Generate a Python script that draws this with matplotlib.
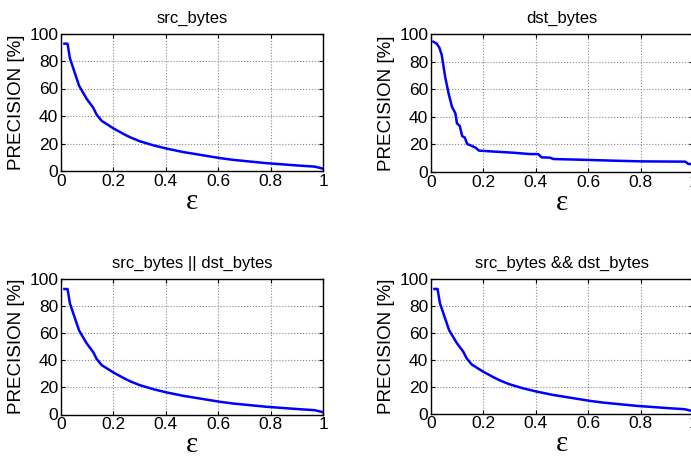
import matplotlib
matplotlib.use("Agg")
import matplotlib.pyplot as plt
import numpy as np

plt.rcParams['font.family'] = ['Liberation Sans', 'DejaVu Sans']

titles = ["src_bytes", "dst_bytes", "src_bytes || dst_bytes", "src_bytes && dst_bytes"]

eps_src = [0.013, 0.025, 0.034, 0.069, 0.098, 0.123, 0.136, 0.155, 0.2, 0.238, 0.263,
           0.3, 0.352, 0.403, 0.466, 0.53, 0.606, 0.657, 0.784, 0.911, 0.968, 1.0]
prec_src = [92.6, 92.6, 82, 62, 52.5, 46, 41, 36.5, 31, 27, 24.6,
            21.7, 18.7, 16.3, 13.8, 11.8, 9.4, 8.1, 5.7, 3.9, 3.2, 1.7]

eps_dst = [0.009, 0.022, 0.032, 0.041, 0.054, 0.067, 0.08, 0.093, 0.099, 0.11, 0.119,
           0.129, 0.138, 0.155, 0.17, 0.183, 0.248, 0.312, 0.377, 0.409, 0.422, 0.454,
           0.467, 0.57, 0.699, 0.803, 0.97, 0.983, 1.0]
prec_dst = [94.4, 93, 90, 84.8, 69, 57, 47.3, 42.5, 35.3, 33.3, 26,
            25, 20.3, 19, 17.6, 15.5, 14.7, 14, 13, 13, 10.6, 10.4,
            9.4, 8.9, 8.2, 7.7, 7.5, 5.8, 5.8]

eps_or = eps_src
prec_or = prec_src
eps_and = eps_src
prec_and = prec_src

xticks = [0, 0.2, 0.4, 0.6, 0.8, 1]
xticklabels = ["0", "0.2", "0.4", "0.6", "0.8", "1"]
yticks = [0, 20, 40, 60, 80, 100]
yticklabels = ["0", "20", "40", "60", "80", "100"]

W, H = 691, 457
fig = plt.figure(figsize=(W / 100, H / 100), dpi=100)

# axes boxes in pixels: (left, top, right, bottom)
boxes = [(61, 33.5, 323, 171), (431, 34, 693, 172),
         (61, 279, 323, 414.5), (431, 279, 693, 413.5)]
series = [(eps_src, prec_src), (eps_dst, prec_dst), (eps_or, prec_or), (eps_and, prec_and)]

for (l, t, r, b), (xs, ys), title in zip(boxes, series, titles):
    ax = fig.add_axes([l / W, 1 - b / H, (r - l) / W, (b - t) / H])
    ax.plot(xs, ys, color='#0000ff', lw=1.8)
    ax.set_xlim(0, 1)
    ax.set_ylim(0, 100)
    ax.set_xticks(xticks)
    ax.set_xticklabels(xticklabels)
    ax.set_yticks(yticks)
    ax.set_yticklabels(yticklabels)
    ax.tick_params(direction='in', top=True, right=True, labelsize=12.5, length=3, width=0.8, pad=2)
    ax.grid(True, linestyle=':', color='#888888', lw=0.8)
    for s in ax.spines.values():
        s.set_linewidth(1.0)
    ax.set_title(title, fontsize=12, pad=8)
    ax.set_ylabel("PRECISION [%]", fontsize=13.5, labelpad=3)
    ax.set_xlabel("ε", fontsize=21, family=['Liberation Serif', 'DejaVu Serif'], labelpad=0)

fig.savefig("out.png", dpi=100)
